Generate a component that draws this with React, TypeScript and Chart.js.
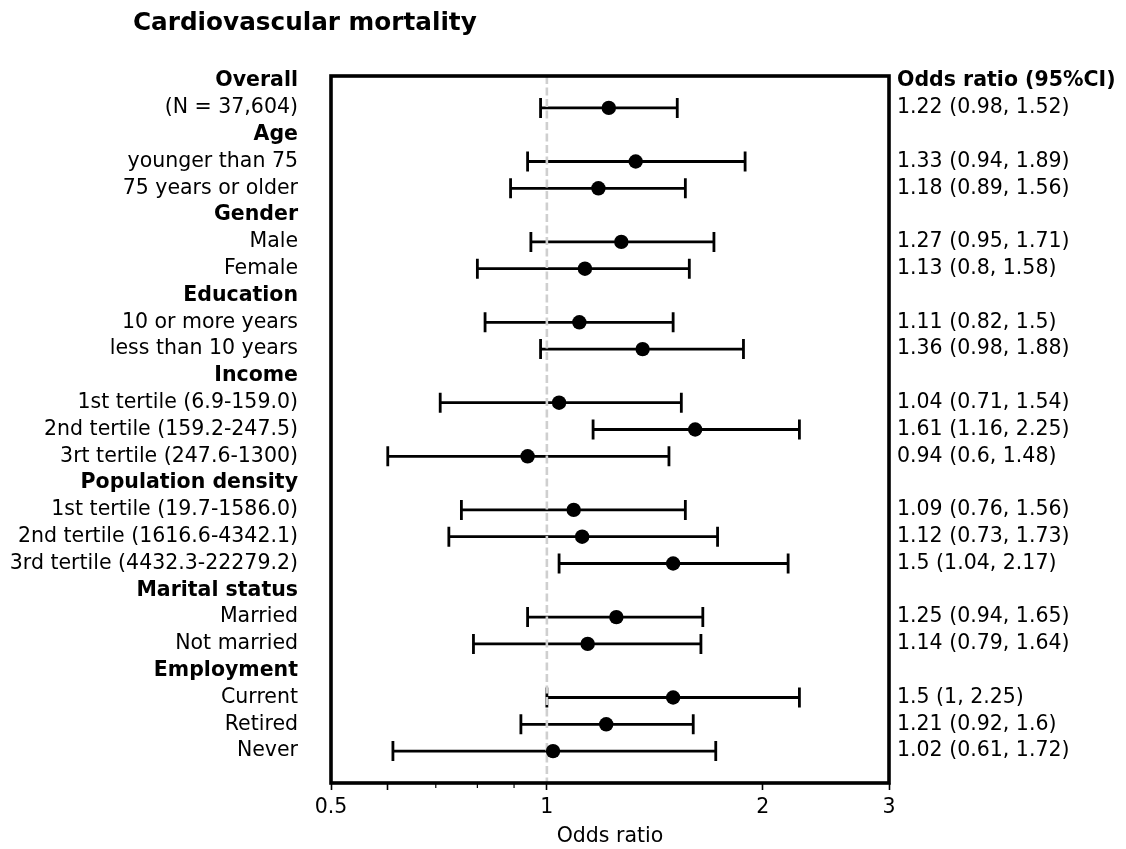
import React, { useEffect, useRef } from "react";
import { Chart, registerables } from "chart.js";

Chart.register(...registerables);

const FONT = "'DejaVu Sans', 'Liberation Sans', sans-serif";
const TEXT_SIZE = 20.5;

const chartTitle = "Cardiovascular mortality";
const xAxisTitle = "Odds ratio";
const ciHeader = "Odds ratio (95%CI)";

// One entry per row, top to bottom
const rowLabels = [
  "Overall",
  "(N = 37,604)",
  "Age",
  "younger than 75",
  "75 years or older",
  "Gender",
  "Male",
  "Female",
  "Education",
  "10 or more years",
  "less than 10 years",
  "Income",
  "1st tertile (6.9-159.0)",
  "2nd tertile (159.2-247.5)",
  "3rt tertile (247.6-1300)",
  "Population density",
  "1st tertile (19.7-1586.0)",
  "2nd tertile (1616.6-4342.1)",
  "3rd tertile (4432.3-22279.2)",
  "Marital status",
  "Married",
  "Not married",
  "Employment",
  "Current",
  "Retired",
  "Never",
];
const headerRows = [0, 2, 5, 8, 11, 15, 19, 22];

// Estimates, in row order
const estimateRows = [1, 3, 4, 6, 7, 9, 10, 12, 13, 14, 16, 17, 18, 20, 21, 23, 24, 25];
const oddsRatio = [1.22, 1.33, 1.18, 1.27, 1.13, 1.11, 1.36, 1.04, 1.61, 0.94, 1.09, 1.12, 1.5, 1.25, 1.14, 1.5, 1.21, 1.02];
const ciLower = [0.98, 0.94, 0.89, 0.95, 0.8, 0.82, 0.98, 0.71, 1.16, 0.6, 0.76, 0.73, 1.04, 0.94, 0.79, 1, 0.92, 0.61];
const ciUpper = [1.52, 1.89, 1.56, 1.71, 1.58, 1.5, 1.88, 1.54, 2.25, 1.48, 1.56, 1.73, 2.17, 1.65, 1.64, 2.25, 1.6, 1.72];

// x axis (log scale)
const xMin = 0.5;
const xMax = 3;
const xMajorTicks = [0.5, 0.6, 1, 2, 3];
const xMajorLabels = ["0.5", "", "1", "2", "3"];
const xMinorTicks = [0.7, 0.8, 0.9];
const referenceValue = 1;

const yMin = -0.19;
const yMax = 26.19;

// Right-hand column text: header on the first row, estimate text on estimate rows
const ciText = rowLabels.map((_, r) => {
  if (r === 0) return ciHeader;
  const i = estimateRows.indexOf(r);
  if (i < 0) return "";
  return `${oddsRatio[i]} (${ciLower[i]}, ${ciUpper[i]})`;
});

const rowFont = (bold: boolean) => ({ family: FONT, size: TEXT_SIZE, weight: bold ? "bold" : "normal" });

const forestPlugin = {
  id: "forestDecor",
  beforeDatasetsDraw(chart: any) {
    const { ctx } = chart;
    const xs = chart.scales.x;
    const ys = chart.scales.y;
    ctx.save();
    ctx.strokeStyle = "#000";
    ctx.lineWidth = 2.8;
    ctx.lineCap = "butt";
    const cap = 10;
    estimateRows.forEach((r, i) => {
      const y = ys.getPixelForValue(r);
      const x1 = xs.getPixelForValue(ciLower[i]);
      const x2 = xs.getPixelForValue(ciUpper[i]);
      ctx.beginPath();
      ctx.moveTo(x1, y);
      ctx.lineTo(x2, y);
      ctx.moveTo(x1, y - cap);
      ctx.lineTo(x1, y + cap);
      ctx.moveTo(x2, y - cap);
      ctx.lineTo(x2, y + cap);
      ctx.stroke();
    });
    ctx.restore();
  },
  afterDraw(chart: any) {
    const { ctx, chartArea } = chart;
    const xs = chart.scales.x;
    ctx.save();
    // minor ticks
    ctx.strokeStyle = "#000";
    ctx.lineWidth = 1.2;
    xMinorTicks.forEach((v) => {
      const x = xs.getPixelForValue(v);
      ctx.beginPath();
      ctx.moveTo(x, chartArea.bottom);
      ctx.lineTo(x, chartArea.bottom + 5);
      ctx.stroke();
    });
    // frame
    ctx.lineWidth = 3.6;
    ctx.strokeRect(chartArea.left, chartArea.top, chartArea.right - chartArea.left, chartArea.bottom - chartArea.top);
    // title
    ctx.fillStyle = "#000";
    ctx.font = `bold 24.7px ${FONT}`;
    ctx.textAlign = "left";
    ctx.textBaseline = "alphabetic";
    ctx.fillText(chartTitle, 133, 29.5);
    ctx.restore();
  },
};

export default function App() {
  const canvasRef = useRef<HTMLCanvasElement | null>(null);

  useEffect(() => {
    if (!canvasRef.current) return;
    const chart = new Chart(canvasRef.current, {
      type: "scatter",
      data: {
        datasets: [
          {
            type: "scatter",
            data: estimateRows.map((r, i) => ({ x: oddsRatio[i], y: r })),
            pointRadius: 7.2,
            pointHoverRadius: 7.2,
            backgroundColor: "#000",
            borderWidth: 0,
            order: 0,
            yAxisID: "y",
          },
          {
            type: "line",
            data: [
              { x: referenceValue, y: yMin },
              { x: referenceValue, y: yMax },
            ],
            borderColor: "#cfcfcf",
            borderWidth: 2.6,
            borderDash: [8, 3.5],
            pointRadius: 0,
            fill: false,
            order: 1,
            yAxisID: "y",
          } as any,
        ],
      },
      options: {
        animation: false,
        responsive: false,
        devicePixelRatio: 1,
        layout: { padding: { top: 76, left: 0, right: 0, bottom: 0 } },
        plugins: {
          legend: { display: false },
          tooltip: { enabled: false },
          title: { display: false },
        },
        scales: {
          x: {
            type: "logarithmic",
            position: "bottom",
            min: xMin,
            max: xMax,
            afterBuildTicks: (scale: any) => {
              scale.ticks = xMajorTicks.map((v) => ({ value: v }));
            },
            afterFit: (scale: any) => {
              scale.height = 66;
            },
            ticks: {
              autoSkip: false,
              maxRotation: 0,
              padding: 5,
              color: "#000",
              font: { family: FONT, size: TEXT_SIZE },
              callback: (_v: any, i: number) => xMajorLabels[i],
            },
            grid: {
              display: true,
              drawOnChartArea: false,
              drawTicks: true,
              tickLength: 7,
              tickWidth: 1.6,
              tickColor: "#000",
            },
            border: { display: false },
            title: {
              display: true,
              text: xAxisTitle,
              color: "#000",
              font: { family: FONT, size: TEXT_SIZE },
              padding: { top: 0, bottom: 0 },
            },
          },
          y: {
            type: "linear",
            position: "left",
            reverse: true,
            min: yMin,
            max: yMax,
            afterBuildTicks: (scale: any) => {
              scale.ticks = rowLabels.map((_, i) => ({ value: i }));
            },
            afterFit: (scale: any) => {
              scale.width = 331;
            },
            ticks: {
              autoSkip: false,
              padding: 33,
              color: "#000",
              font: (c: any) => rowFont(headerRows.includes(c.index)) as any,
              callback: (_v: any, i: number) => rowLabels[i],
            },
            grid: { display: false, drawTicks: false },
            border: { display: false },
          },
          yR: {
            type: "linear",
            position: "right",
            reverse: true,
            min: yMin,
            max: yMax,
            afterBuildTicks: (scale: any) => {
              scale.ticks = rowLabels.map((_, i) => ({ value: i }));
            },
            afterFit: (scale: any) => {
              scale.width = 237;
            },
            ticks: {
              autoSkip: false,
              padding: 8,
              color: "#000",
              font: (c: any) => rowFont(c.index === 0) as any,
              callback: (_v: any, i: number) => ciText[i],
            },
            grid: { display: false, drawTicks: false },
            border: { display: false },
          },
        },
      } as any,
      plugins: [forestPlugin],
    });
    return () => chart.destroy();
  }, []);

  return (
    <div style={{ position: "absolute", left: 0, top: 0, width: 1126, height: 849, background: "#fff" }}>
      <canvas ref={canvasRef} width={1126} height={849} style={{ display: "block" }} />
    </div>
  );
}
